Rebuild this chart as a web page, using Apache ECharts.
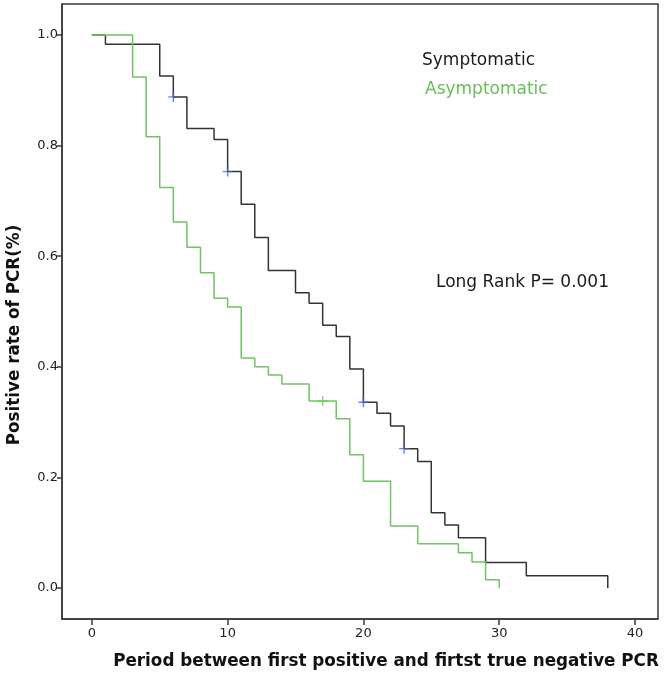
<!DOCTYPE html>
<html><head><meta charset="utf-8">
<script src="https://cdn.jsdelivr.net/npm/echarts@6/dist/echarts.min.js"></script>
<style>html,body{margin:0;padding:0;background:#fff}#c{width:666px;height:678px}</style>
</head><body><div id="c"></div>
<script>
// Kaplan-Meier step data
const symTimes = [0, 1, 5, 6, 7, 9, 10, 11, 12, 13, 15, 16, 17, 18, 19, 20, 21, 22, 23, 24, 25, 26, 27, 29, 32, 38];
const symRate  = [1.0, 0.983, 0.926, 0.888, 0.831, 0.811, 0.753, 0.694, 0.634, 0.574, 0.534, 0.515, 0.475, 0.455, 0.396, 0.336, 0.316, 0.293, 0.252, 0.229, 0.136, 0.114, 0.091, 0.046, 0.022, 0.0];
const asymTimes = [0, 3, 4, 5, 6, 7, 8, 9, 10, 11, 12, 13, 14, 16, 18, 19, 20, 22, 24, 27, 28, 29, 30];
const asymRate  = [1.0, 0.924, 0.816, 0.724, 0.662, 0.616, 0.570, 0.524, 0.508, 0.416, 0.400, 0.385, 0.369, 0.338, 0.306, 0.241, 0.193, 0.112, 0.080, 0.064, 0.047, 0.015, 0.0];
const symCensorTimes = [6, 10, 20, 23];
const symCensorRate  = [0.888, 0.753, 0.336, 0.252];
const asymCensorTimes = [17];
const asymCensorRate  = [0.338];
const xTicks = [0, 10, 20, 30, 40];
const yTicks = [0.0, 0.2, 0.4, 0.6, 0.8, 1.0];
const seriesNames = ['Symptomatic', 'Asymptomatic'];
const xTitle = 'Period between first positive and firtst true negative PCR';
const yTitle = 'Positive rate of PCR(%)';
const annotation = 'Long Rank P= 0.001';

const zip = (a, b) => a.map((v, i) => [v, b[i]]);
const plusPath = 'path://M0,4.3H10V5.7H0Z M4.3,0H5.7V10H4.3Z';
const FONT = 'DejaVu Sans';

const chart = echarts.init(document.getElementById('c'), null, {renderer: 'canvas'});
chart.setOption({
  animation: false,
  backgroundColor: '#fff',
  grid: {left: 62, right: 8, top: 4, bottom: 59, show: true, borderColor: '#3a3a3a', borderWidth: 1.5},
  xAxis: {
    type: 'value', min: -2.2, max: 41.7,
    axisLine: {show: true, onZero: false, lineStyle: {color: '#3a3a3a', width: 1.5}},
    axisTick: {show: true, customValues: xTicks, length: 6, lineStyle: {color: '#3a3a3a', width: 1.5}},
    axisLabel: {customValues: xTicks, color: '#222', fontFamily: FONT, fontSize: 13, margin: 8},
    splitLine: {show: false}
  },
  yAxis: {
    type: 'value', min: -0.056, max: 1.056,
    axisLine: {show: true, onZero: false, lineStyle: {color: '#3a3a3a', width: 1.5}},
    axisTick: {show: true, customValues: yTicks, length: 5, lineStyle: {color: '#3a3a3a', width: 1.5}},
    axisLabel: {customValues: yTicks, color: '#222', fontFamily: FONT, fontSize: 13, margin: 4,
      formatter: v => v.toFixed(1)},
    splitLine: {show: false}
  },
  graphic: [
    {type: 'text', left: 422, top: 52, style: {text: seriesNames[0], fill: '#1a1a1a', font: '17px "DejaVu Sans"'}},
    {type: 'text', left: 425, top: 81, style: {text: seriesNames[1], fill: '#67bd5a', font: '17px "DejaVu Sans"'}},
    {type: 'text', left: 436, top: 274, style: {text: annotation, fill: '#1a1a1a', font: '17px "DejaVu Sans"'}},
    {type: 'text', x: 386, y: 662, style: {text: xTitle, fill: '#111', font: 'bold 16.8px "DejaVu Sans"', align: 'center', verticalAlign: 'middle'}},
    {type: 'text', x: 15, y: 335, rotation: Math.PI / 2, style: {text: yTitle, fill: '#111', font: 'bold 16.8px "DejaVu Sans"', align: 'center', verticalAlign: 'middle'}}
  ],
  series: [
    {name: seriesNames[0], type: 'line', step: 'end', showSymbol: false, data: zip(symTimes, symRate),
      lineStyle: {color: '#333', width: 1.5}, z: 2},
    {name: seriesNames[1], type: 'line', step: 'end', showSymbol: false, data: zip(asymTimes, asymRate),
      lineStyle: {color: '#72c266', width: 1.5}, z: 2},
    {name: seriesNames[0] + ' censored', type: 'scatter', symbol: plusPath, symbolSize: 10,
      data: zip(symCensorTimes, symCensorRate), itemStyle: {color: '#4a5fd6'}, z: 3},
    {name: seriesNames[1] + ' censored', type: 'scatter', symbol: plusPath, symbolSize: 10,
      data: zip(asymCensorTimes, asymCensorRate), itemStyle: {color: '#72c266'}, z: 3}
  ]
});
</script></body></html>
